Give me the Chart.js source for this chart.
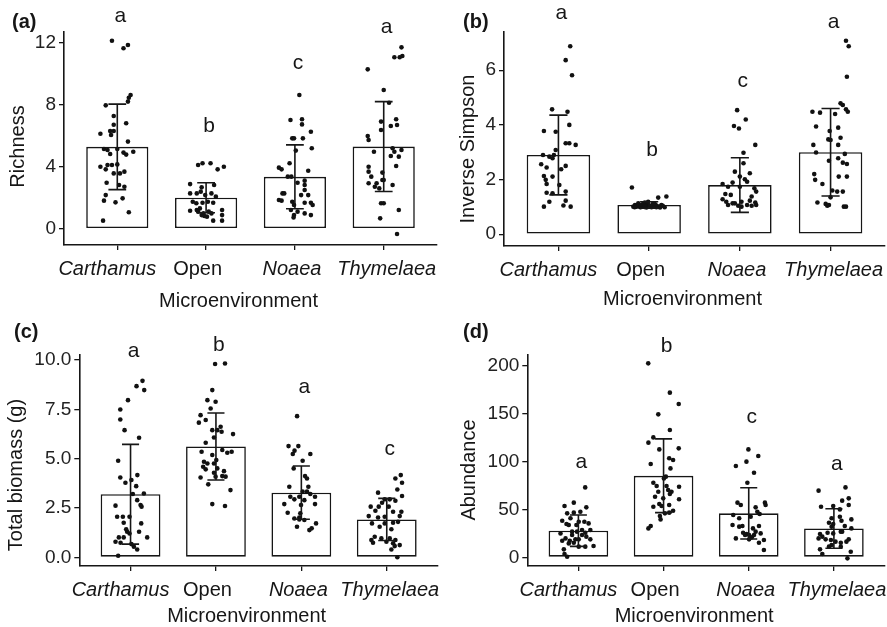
<!DOCTYPE html>
<html>
<head>
<meta charset="utf-8">
<title>Microenvironment panels</title>
<script src="https://cdn.jsdelivr.net/npm/chart.js@4.4.1/dist/chart.umd.min.js"></script>
<style>
  html, body { margin: 0; padding: 0; background: #fff; overflow: hidden; }
  body { width: 887px; height: 627px; position: relative; }
  canvas { position: absolute; }
</style>
</head>
<body>
<canvas id="chartA" width="443" height="310" style="left:0;top:0"></canvas>
<canvas id="chartB" width="446" height="310" style="left:443px;top:0"></canvas>
<canvas id="chartC" width="443" height="317" style="left:0;top:310px"></canvas>
<canvas id="chartD" width="446" height="317" style="left:443px;top:310px"></canvas>
<script>
// ---- data ----
const categories = ['Carthamus', 'Open', 'Noaea', 'Thymelaea'];
const italicCategory = [true, false, true, true];

// (a) Richness
const richnessMean = [5.28, 2.0, 3.35, 5.3];
const richnessSd = [2.76, 0.97, 2.06, 2.9];
const richnessLetters = ['a', 'b', 'c', 'a'];
const richnessLetterY = [13.35, 6.26, 10.28, 12.65];
const richnessTicks = [0, 4, 8, 12];
// jittered observations: [offset from category, value]
const richnessPoints = [
    [[-0.06,12.13],[0.12,11.85],[0.07,11.64],[0.15,8.63],[0.13,8.45],[0.12,8.2],[-0.13,7.96],[-0.04,7.27],[-0.04,6.71],[0.10,6.8],
     [-0.19,6.13],[-0.08,6.3],[-0.04,6.3],[-0.07,6.05],[0.12,5.62],[-0.15,5.14],[-0.11,5.08],[-0.08,4.82],[0.0,5.14],[0.07,4.91],
     [0.10,4.78],[0.18,4.97],[-0.19,4.0],[-0.13,3.83],[-0.11,4.11],[-0.06,4.11],[0.0,4.15],[-0.04,3.57],[0.03,3.57],[0.08,3.68],
     [-0.12,2.97],[0.02,2.82],[0.08,2.71],[-0.13,2.17],[-0.15,1.81],[-0.02,1.7],[0.06,1.96],[0.13,1.06],[-0.16,0.52]],
    [[-0.09,4.11],[-0.04,4.22],[0.05,4.22],[0.13,3.83],[0.20,4.0],[-0.18,2.88],[-0.05,2.67],[0.09,2.82],[-0.18,2.28],[-0.105,2.28],
     [-0.06,2.39],[-0.01,2.17],[0.06,2.28],[0.11,2.07],[-0.15,1.74],[-0.11,1.64],[-0.04,1.68],[0.02,1.74],[0.08,1.68],[-0.18,1.16],
     [-0.105,1.21],[-0.07,1.31],[-0.03,0.99],[-0.02,0.82],[0.01,0.78],[0.06,0.99],[0.18,1.21],[0.18,0.88],[0.08,0.52],[0.18,0.52],
     [-0.05,0.88],[0.03,1.1],[-0.09,1.1]],
    [[0.05,8.63],[-0.05,7.01],[0.08,7.06],[0.08,6.73],[0.18,6.26],[-0.03,5.83],[-0.01,5.83],[0.09,5.83],[0.01,5.04],[0.19,5.19],
     [-0.06,4.22],[-0.18,3.94],[-0.15,3.83],[0.15,3.74],[-0.08,3.36],[-0.04,3.36],[0.11,3.1],[0.11,2.82],[0.03,2.97],[0.11,2.5],
     [-0.14,2.28],[-0.12,2.28],[-0.18,1.85],[-0.15,1.81],[0.07,2.17],[0.15,2.17],[-0.03,1.74],[-0.01,1.53],[0.11,1.68],[0.18,1.68],
     [0.2,1.53],[-0.045,1.21],[0.03,1.1],[0.11,0.99],[0.18,0.88],[-0.01,0.88],[-0.015,0.73]],
    [[0.2,11.7],[0.12,11.06],[0.18,11.06],[0.21,11.14],[-0.18,10.28],[0.0,8.95],[0.06,8.13],[-0.03,6.91],[-0.03,6.37],[0.14,7.06],
     [0.15,6.69],[0.08,6.63],[-0.18,5.98],[-0.17,5.72],[-0.11,4.97],[0.10,5.19],[0.12,4.97],[0.2,5.08],[0.08,4.69],[0.17,4.65],
     [0.14,4.05],[-0.17,4.0],[-0.17,3.68],[-0.14,3.36],[-0.015,3.62],[-0.015,3.14],[0.0,3.14],[-0.17,2.93],[-0.08,2.93],[-0.1,2.71],
     [-0.05,2.6],[0.10,2.82],[-0.03,1.64],[0.0,1.64],[0.17,1.21],[-0.04,0.67],[0.15,-0.34]]
];

// (b) Inverse Simpson
const simpsonMean = [2.9, 1.07, 1.8, 3.0];
const simpsonSd = [1.46, 0.12, 1.0, 1.6];
const simpsonLetters = ['a', 'b', 'c', 'a'];
const simpsonLetterY = [7.86, 2.86, 5.37, 7.53];
const simpsonTicks = [0, 2, 4, 6];
const simpsonPoints = [
    [[0.13,6.88],[0.08,6.37],[0.15,5.82],[-0.07,4.57],[0.10,4.48],[0.12,4.0],[-0.16,3.78],[-0.03,3.75],[0.08,3.33],[0.12,3.33],
     [0.19,3.27],[-0.03,3.08],[-0.17,2.9],[-0.10,2.84],[-0.065,2.78],[-0.05,2.9],[-0.19,2.56],[-0.13,2.44],[0.08,2.5],[0.03,2.38],
     [-0.16,2.13],[-0.065,2.11],[-0.14,1.99],[-0.13,1.84],[0.01,1.8],[-0.13,1.52],[-0.065,1.5],[0.08,1.56],[0.08,1.23],[-0.10,1.19],
     [-0.16,1.01],[0.055,1.05],[0.135,1.01]],
    [[-0.19,1.71],[0.10,1.34],[0.19,1.38],[-0.156,1.07],[-0.12,1.13],[-0.07,1.04],[-0.047,1.16],[-0.022,1.1],[0.007,1.04],[0.044,1.13],
     [0.073,1.07],[0.116,1.01],[0.171,0.99],[-0.138,1.01],[-0.094,0.99],[-0.036,1.01],[0.026,0.99],[0.08,0.99],[-0.174,1.01],[0.135,1.07],
     [-0.011,1.19],[-0.065,1.11],[0.051,1.04],[-0.1,1.0],[0.03,1.05],[0.09,1.02],[-0.03,0.98],[0.15,1.04],[-0.16,0.99],[0.06,1.12],
     [-0.08,1.08],[0.12,0.98],[-0.05,1.0]],
    [[-0.03,4.54],[0.065,4.2],[-0.065,3.96],[-0.01,3.87],[0.17,3.27],[0.04,2.98],[0.04,2.6],[-0.055,2.29],[0.11,2.23],[0.0,2.11],
     [0.055,2.01],[0.08,1.92],[-0.19,1.84],[-0.08,1.89],[0.0,1.74],[-0.13,1.74],[0.16,1.68],[0.18,1.56],[-0.16,1.47],[-0.10,1.44],
     [0.13,1.38],[-0.19,1.28],[-0.15,1.19],[0.11,1.23],[0.17,1.16],[-0.13,1.07],[-0.055,1.13],[0.018,1.19],[0.08,1.07],[0.13,1.04],
     [0.18,1.07],[0.018,1.01],[-0.018,1.04],[-0.08,1.13]],
    [[0.17,7.08],[0.2,6.88],[0.18,5.76],[0.11,4.79],[0.135,4.73],[0.17,4.57],[0.19,4.48],[-0.20,4.48],[-0.116,4.45],[0.05,4.4],
     [-0.16,3.94],[-0.01,3.78],[0.084,3.9],[-0.025,3.47],[0.0,3.45],[0.11,3.53],[0.084,3.27],[-0.19,3.27],[-0.16,2.99],[0.157,2.94],
     [-0.018,2.69],[0.084,2.78],[0.135,2.62],[0.18,2.57],[-0.18,2.2],[-0.17,1.99],[0.09,2.11],[0.18,2.11],[-0.09,1.84],[0.019,1.6],
     [0.073,1.56],[0.135,1.56],[-0.145,1.16],[-0.054,1.11],[-0.036,1.04],[-0.018,1.07],[0.146,1.01],[0.17,1.01],[0.0,1.35]]
];

// (c) Total biomass (g)
const biomassMean = [3.2, 5.62, 3.28, 1.92];
const biomassSd = [2.53, 1.7, 1.35, 1.07];
const biomassLetters = ['a', 'b', 'a', 'c'];
const biomassLetterY = [10.17, 10.48, 8.35, 5.19];
const biomassTicks = [0, 2.5, 5, 7.5, 10];
const biomassPoints = [
    [[0.14,8.95],[0.07,8.68],[0.16,8.48],[-0.03,7.97],[-0.12,7.5],[-0.12,6.99],[-0.07,6.45],[0.10,6.06],[-0.145,4.9],[0.08,4.17],
     [-0.12,4.05],[-0.06,3.78],[0.01,3.92],[0.066,3.61],[0.027,3.21],[0.156,3.24],[0.078,2.9],[0.117,2.65],[-0.176,2.62],[0.129,2.57],
     [-0.157,2.06],[-0.09,2.06],[-0.012,2.06],[-0.08,1.75],[0.125,1.72],[-0.051,1.42],[0.1,1.3],[-0.012,1.21],[-0.137,1.01],[-0.08,1.01],
     [0.195,1.01],[-0.176,0.79],[-0.117,0.74],[0.039,0.54],[0.078,0.4],[-0.145,0.08],[-0.04,1.3],[0.01,0.67]],
    [[-0.01,9.8],[0.106,9.83],[-0.043,8.48],[-0.1,7.97],[-0.004,7.89],[-0.062,7.55],[-0.18,7.21],[-0.2,6.83],[-0.12,6.96],[-0.043,6.45],
     [0.066,6.37],[0.016,6.45],[0.2,6.25],[-0.023,6.08],[-0.12,5.81],[-0.168,5.35],[0.074,5.44],[0.184,5.35],[0.133,5.3],[-0.14,4.85],
     [-0.1,4.76],[-0.043,5.19],[0.004,4.93],[-0.15,4.59],[-0.12,4.46],[-0.023,4.76],[0.016,4.51],[0.094,4.37],[0.074,4.12],[-0.18,4.05],
     [-0.023,4.29],[-0.004,4.09],[0.113,4.09],[-0.09,3.7],[0.17,3.41],[-0.043,2.7],[0.106,2.6],[0.055,6.62]],
    [[-0.05,7.16],[-0.15,5.64],[-0.035,5.64],[-0.08,5.41],[-0.1,5.24],[0.105,5.24],[0.015,4.9],[-0.09,4.51],[0.043,4.12],[0.066,4.0],
     [-0.141,3.58],[0.082,3.58],[-0.129,3.07],[0.015,3.33],[0.066,3.33],[0.105,3.21],[0.16,3.07],[-0.024,3.07],[-0.2,2.7],[-0.004,2.65],
     [0.16,2.7],[-0.16,2.26],[-0.012,2.23],[-0.082,1.97],[-0.024,1.92],[0.035,1.89],[-0.051,1.55],[0.094,1.38],[0.121,1.47],[0.172,1.72],
     [-0.024,2.02],[-0.082,2.94],[0.035,2.9]],
    [[0.164,4.17],[0.101,4.0],[0.179,3.78],[0.124,3.44],[0.179,3.11],[-0.102,3.28],[-0.055,2.77],[0.035,2.94],[-0.024,2.94],[-0.188,2.57],
     [-0.094,2.57],[0.101,2.87],[-0.133,2.36],[0.023,2.57],[0.074,2.31],[0.171,2.31],[0.152,2.09],[-0.024,2.06],[-0.211,2.09],[-0.173,1.72],
     [-0.024,1.72],[0.074,1.75],[0.132,1.8],[-0.141,1.04],[-0.18,0.88],[-0.161,0.74],[-0.063,0.96],[-0.004,0.79],[0.035,0.96],[0.074,0.71],
     [0.093,0.57],[0.054,0.4],[0.152,0.62],[0.101,0.88],[0.124,0.0],[-0.083,1.55],[0.054,1.42],[-0.102,2.02]]
];

// (d) Abundance
const abundanceMean = [27.7, 84.9, 45.8, 30.0];
const abundanceSd = [16.3, 38.4, 26.7, 20.5];
const abundanceLetters = ['a', 'b', 'c', 'a'];
const abundanceLetterY = [92.7, 214.2, 140.2, 90.9];
const abundanceTicks = [0, 50, 100, 150, 200];
const abundancePoints = [
    [[0.08,72.8],[-0.163,53.4],[-0.054,56.9],[0.093,52.0],[-0.132,45.8],[-0.054,46.5],[0.023,47.5],[-0.19,38.1],[-0.093,40.6],[-0.14,34.7],
     [0.004,37.1],[0.07,37.1],[0.12,35.3],[-0.113,33.6],[-0.023,33.6],[-0.074,26.7],[-0.016,26.7],[0.043,28.4],[0.14,28.4],[-0.21,24.9],
     [0.081,25.6],[-0.151,19.7],[-0.101,17.3],[-0.035,18.7],[0.004,18.7],[-0.19,17.3],[0.093,21.5],[0.14,18.7],[-0.113,14.5],[-0.054,15.2],
     [0.004,11.1],[0.081,11.1],[0.178,11.7],[-0.171,8.3],[-0.163,3.4],[-0.132,0.6],[-0.074,23.2],[0.043,23.2]],
    [[-0.18,202.0],[0.074,171.5],[0.178,159.6],[-0.062,148.9],[0.074,132.6],[-0.12,124.9],[-0.178,119.4],[0.178,113.5],[-0.05,112.4],[0.066,103.1],
     [-0.151,97.2],[0.112,101.3],[0.081,92.6],[0.004,82.2],[-0.12,77.7],[-0.081,74.2],[0.035,74.2],[0.182,73.5],[0.093,68.3],[0.074,65.9],
     [-0.1,63.1],[-0.004,61.4],[0.182,60.4],[-0.05,55.5],[-0.023,53.4],[0.066,54.4],[-0.12,52.7],[0.112,48.5],[0.016,45.8],[0.066,46.5],
     [-0.043,43.0],[-0.035,39.5],[-0.151,32.6],[-0.178,30.1],[0.027,84.0],[0.054,70.1],[-0.062,68.3]],
    [[-0.004,112.4],[-0.151,95.1],[-0.027,99.6],[0.112,105.5],[0.062,88.1],[-0.016,77.7],[-0.132,56.9],[-0.093,54.4],[0.081,52.0],[0.19,56.9],
     [0.198,54.4],[-0.182,44.0],[0.101,47.5],[0.128,45.1],[-0.112,40.6],[0.023,42.3],[-0.074,32.6],[-0.19,33.6],[0.05,30.1],[0.12,32.6],
     [0.081,26.7],[-0.066,25.6],[-0.027,24.2],[0.004,23.2],[0.035,20.8],[-0.151,19.7],[0.12,15.2],[0.178,18.0],[0.178,7.6],[0.004,18.7],
     [-0.043,23.2],[0.062,23.2],[-0.112,31.9],[0.14,24.9]],
    [[-0.18,69.4],[0.136,72.8],[0.174,61.4],[0.097,59.0],[0.174,54.4],[-0.151,52.7],[-0.008,53.4],[0.07,49.9],[0.205,39.5],[-0.027,40.6],
     [-0.058,36.0],[-0.008,34.6],[0.089,38.1],[0.128,32.6],[0.205,30.1],[-0.163,24.2],[-0.136,21.5],[-0.074,25.6],[0.081,26.7],[-0.008,24.9],
     [-0.18,19.7],[-0.097,18.7],[-0.035,18.0],[0.019,16.3],[0.081,15.2],[0.147,16.3],[0.174,18.7],[-0.027,12.8],[0.081,11.1],[-0.163,8.3],
     [-0.058,11.1],[0.097,26.7],[0.198,5.8],[-0.136,3.4],[0.159,-1.1],[0.07,42.3],[-0.027,31.9]]
];

// ---- look ----
const FONT = '"Liberation Sans", Arial, Helvetica, sans-serif';
const INK = '#161616';
const X_LABEL_SHIFT = [-10, -8.5, -3, 3];
const CAP_HALF = 0.1;

Chart.defaults.font.family = FONT;
Chart.defaults.color = INK;

const panelText = {
    id: 'panelText',
    afterDraw(chart, args, o) {
        const { ctx, chartArea, scales } = chart;
        const xs = scales.x, ys = scales.y;
        ctx.save();
        ctx.fillStyle = INK;
        ctx.textAlign = 'center';
        ctx.textBaseline = 'alphabetic';

        // category labels
        categories.forEach((c, i) => {
            ctx.font = (italicCategory[i] ? 'italic ' : '') + '20px ' + FONT;
            ctx.fillText(c, xs.getPixelForValue(i + 1) + X_LABEL_SHIFT[i], chartArea.bottom + 30);
        });

        // significance letters
        ctx.font = '21px ' + FONT;
        o.letters.forEach((l, i) => {
            ctx.fillText(l, xs.getPixelForValue(i + 1) + 3, ys.getPixelForValue(o.letterY[i]));
        });

        // axis titles
        ctx.font = '20px ' + FONT;
        ctx.fillText('Microenvironment', (chartArea.left + chartArea.right) / 2 - 12, chartArea.bottom + o.xTitleGap);
        ctx.save();
        ctx.translate(o.yTitleX, (chartArea.top + chartArea.bottom) / 2 + o.yTitleShift);
        ctx.rotate(-Math.PI / 2);
        ctx.fillText(o.yTitle, 0, 0);
        ctx.restore();

        // panel tag
        ctx.textAlign = 'left';
        ctx.font = 'bold 20px ' + FONT;
        ctx.fillText(o.tag, o.tagX, 28);
        ctx.restore();
    }
};

function errorBarData(means, sds) {
    const out = [];
    means.forEach((m, i) => {
        const cx = i + 1, hi = m + sds[i], lo = m - sds[i];
        out.push({ x: cx - CAP_HALF, y: hi }, { x: cx + CAP_HALF, y: hi }, { x: cx, y: null });
        out.push({ x: cx, y: hi }, { x: cx, y: lo }, { x: cx, y: null });
        out.push({ x: cx - CAP_HALF, y: lo }, { x: cx + CAP_HALF, y: lo }, { x: cx, y: null });
    });
    return out;
}

function makePanel(cfg) {
    const pointData = [];
    cfg.points.forEach((group, i) => {
        group.forEach(p => pointData.push({ x: i + 1 + p[0], y: p[1] }));
    });

    new Chart(document.getElementById(cfg.canvas), {
        type: 'bar',
        data: {
            datasets: [
                {
                    type: 'line',
                    data: errorBarData(cfg.mean, cfg.sd),
                    borderColor: INK,
                    borderWidth: 1.6,
                    pointRadius: 0,
                    spanGaps: false,
                    tension: 0,
                    order: 1
                },
                {
                    type: 'scatter',
                    data: pointData,
                    backgroundColor: '#111',
                    borderWidth: 0,
                    pointRadius: 2.3,
                    order: 2
                },
                {
                    type: 'bar',
                    data: cfg.mean.map((m, i) => ({ x: i + 1, y: m })),
                    backgroundColor: '#ffffff',
                    borderColor: INK,
                    borderWidth: 1.6,
                    borderSkipped: false,
                    barPercentage: 0.7,
                    categoryPercentage: 1,
                    order: 3
                }
            ]
        },
        options: {
            responsive: false,
            animation: false,
            events: [],
            layout: {
                padding: { top: cfg.areaTop, right: cfg.width - cfg.areaRight, bottom: 0, left: 0 }
            },
            plugins: {
                legend: { display: false },
                tooltip: { enabled: false },
                panelText: {
                    letters: cfg.letters,
                    letterY: cfg.letterY,
                    yTitle: cfg.yTitle,
                    yTitleX: cfg.yTitleX,
                    yTitleShift: cfg.yTitleShift,
                    xTitleGap: cfg.xTitleGap,
                    tag: cfg.tag,
                    tagX: cfg.tagX
                }
            },
            scales: {
                x: {
                    type: 'linear',
                    offset: false,
                    min: 0.4,
                    max: 4.6,
                    afterBuildTicks: s => { s.ticks = categories.map((c, i) => ({ value: i + 1 })); },
                    afterFit: s => { s.height = cfg.height - cfg.areaBottom; },
                    ticks: { display: false },
                    grid: { offset: false, drawOnChartArea: false, drawTicks: true, tickLength: 5, color: INK, lineWidth: 1.3 },
                    border: { display: true, color: INK, width: 1.6 }
                },
                y: {
                    type: 'linear',
                    min: cfg.yMin,
                    max: cfg.yMax,
                    afterBuildTicks: s => { s.ticks = cfg.ticks.map(v => ({ value: v })); },
                    afterFit: s => { s.width = cfg.areaLeft; },
                    ticks: {
                        font: { size: 19 },
                        color: '#222',
                        padding: 3,
                        callback: v => v.toFixed(cfg.decimals)
                    },
                    grid: { drawOnChartArea: false, drawTicks: true, tickLength: 5, color: INK, lineWidth: 1.3 },
                    border: { display: true, color: INK, width: 1.6 }
                }
            }
        },
        plugins: [panelText]
    });
}

makePanel({
    canvas: 'chartA', width: 443, height: 310,
    areaLeft: 64, areaTop: 32, areaRight: 437, areaBottom: 245,
    yMin: -1.05, yMax: 12.69, ticks: richnessTicks, decimals: 0,
    mean: richnessMean, sd: richnessSd, points: richnessPoints,
    letters: richnessLetters, letterY: richnessLetterY,
    yTitle: 'Richness', yTitleX: 24, yTitleShift: 8, xTitleGap: 61.7,
    tag: '(a)', tagX: 12
});

makePanel({
    canvas: 'chartB', width: 446, height: 310,
    areaLeft: 61, areaTop: 32, areaRight: 445, areaBottom: 246,
    yMin: -0.43, yMax: 7.4, ticks: simpsonTicks, decimals: 0,
    mean: simpsonMean, sd: simpsonSd, points: simpsonPoints,
    letters: simpsonLetters, letterY: simpsonLetterY,
    yTitle: 'Inverse Simpson', yTitleX: 31, yTitleShift: 10, xTitleGap: 59,
    tag: '(b)', tagX: 20
});

makePanel({
    canvas: 'chartC', width: 443, height: 317,
    areaLeft: 79.3, areaTop: 45, areaRight: 438, areaBottom: 256,
    yMin: -0.44, yMax: 10.26, ticks: biomassTicks, decimals: 1,
    mean: biomassMean, sd: biomassSd, points: biomassPoints,
    letters: biomassLetters, letterY: biomassLetterY,
    yTitle: 'Total biomass (g)', yTitleX: 22, yTitleShift: 14.5, xTitleGap: 55.7,
    tag: '(c)', tagX: 14
});

makePanel({
    canvas: 'chartD', width: 446, height: 317,
    areaLeft: 84.3, areaTop: 45, areaRight: 444.6, areaBottom: 256,
    yMin: -9.06, yMax: 210.7, ticks: abundanceTicks, decimals: 0,
    mean: abundanceMean, sd: abundanceSd, points: abundancePoints,
    letters: abundanceLetters, letterY: abundanceLetterY,
    yTitle: 'Abundance', yTitleX: 31.5, yTitleShift: 9.5, xTitleGap: 55.7,
    tag: '(d)', tagX: 20
});
</script>
</body>
</html>
